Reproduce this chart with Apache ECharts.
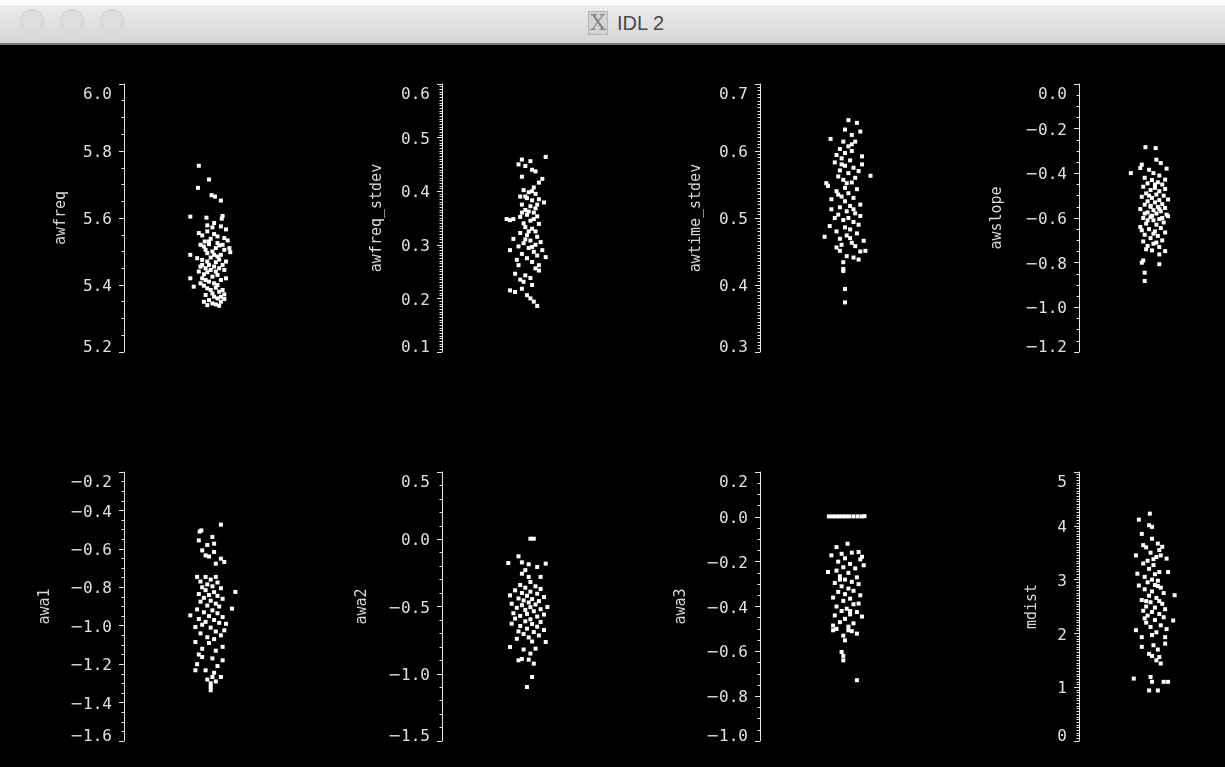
<!DOCTYPE html>
<html><head><meta charset="utf-8">
<script src="https://cdn.jsdelivr.net/npm/echarts@6/dist/echarts.min.js"></script>
<style>
html,body{margin:0;padding:0;background:#fff;}
#wrap{position:relative;width:1225px;height:767px;overflow:hidden;background:#000;}
#chart{position:absolute;left:0;top:0;width:1225px;height:767px;}
#topstrip{position:absolute;left:0;top:0;width:1225px;height:5px;background:#fff;}
#bar{position:absolute;left:0;top:5px;width:1225px;height:38px;background:linear-gradient(#ededed,#d6d6d6);border-bottom:2px solid #7a7a7a;}
.dot{position:absolute;top:4px;width:24px;height:24px;border-radius:50%;background:#dedede;border:1px solid #d0d0d0;box-sizing:border-box;}
#icon{position:absolute;left:588px;top:6px;width:20px;height:24px;background:#d4d4d4;border:1px solid #b5b5b5;box-sizing:border-box;font-family:'DejaVu Serif',serif;font-size:22px;line-height:22px;text-align:center;color:#888;}
#title{position:absolute;left:617px;top:6px;font-family:'Liberation Sans','DejaVu Sans',sans-serif;font-size:20px;line-height:24px;color:#4a4a4a;}
</style></head>
<body>
<div id="wrap">
  <div id="chart"></div>
  <div id="topstrip"></div>
  <div id="bar">
    <div class="dot" style="left:20px"></div>
    <div class="dot" style="left:60px"></div>
    <div class="dot" style="left:100px"></div>
    <div id="icon">X</div>
    <div id="title">IDL 2</div>
  </div>
</div>
<script>
// ---- panel names ----
const panelNames = ['awfreq','awfreq_stdev','awtime_stdev','awslope','awa1','awa2','awa3','mdist'];

// ---- tick labels per panel ----
const awfreqTicks = [5.2,5.4,5.6,5.8,6.0];
const awfreqStdevTicks = [0.1,0.2,0.3,0.4,0.5,0.6];
const awtimeStdevTicks = [0.3,0.4,0.5,0.6,0.7];
const awslopeTicks = [-1.2,-1.0,-0.8,-0.6,-0.4,-0.2,0.0];
const awa1Ticks = [-1.6,-1.4,-1.2,-1.0,-0.8,-0.6,-0.4,-0.2];
const awa2Ticks = [-1.5,-1.0,-0.5,0.0,0.5];
const awa3Ticks = [-1.0,-0.8,-0.6,-0.4,-0.2,0.0,0.2];
const mdistTicks = [0,1,2,3,4,5];

// ---- data: [jitter, value] ----
const awfreqPts = [[-0.12,5.756],[0.0,5.715],[-0.13,5.69],[0.03,5.668],[0.07,5.664],[0.14,5.652],[-0.22,5.604],[-0.03,5.601],[0.16,5.606],[0.15,5.598],
[-0.02,5.578],[0.04,5.572],[0.14,5.575],[0.20,5.566],[0.06,5.585],
[-0.12,5.555],[-0.08,5.548],[-0.02,5.56],[0.06,5.552],[0.10,5.545],[0.18,5.54],[0.22,5.533],[0.02,5.538],[-0.05,5.53],
[-0.10,5.52],[-0.06,5.515],[0.0,5.522],[0.08,5.51],[0.12,5.518],[0.18,5.505],[0.24,5.51],[0.25,5.498],[0.04,5.5],[-0.02,5.495],[0.14,5.49],
[-0.22,5.49],[-0.14,5.48],[-0.08,5.475],[-0.02,5.47],[0.02,5.482],[0.08,5.468],[0.12,5.476],[0.16,5.46],[0.20,5.47],[0.06,5.455],[-0.04,5.45],
[-0.12,5.44],[-0.06,5.432],[-0.02,5.438],[0.04,5.425],[0.10,5.43],[0.14,5.415],[0.0,5.41],[-0.08,5.42],
[-0.22,5.42],[-0.18,5.395],
[-0.06,5.398],[-0.02,5.39],[0.02,5.385],[0.08,5.392],[0.12,5.38],[0.16,5.385],[0.18,5.372],[-0.04,5.37],[0.06,5.365],[0.10,5.36],[0.0,5.355],[-0.06,5.35],[0.04,5.345],[0.14,5.35],[0.18,5.358],[0.08,5.342],[-0.02,5.34],[0.12,5.338],
[0.0,5.53],[0.10,5.525],[0.16,5.52],[-0.04,5.505],[0.06,5.49],[0.10,5.485],[-0.08,5.46],[0.0,5.46],[0.12,5.45],[0.18,5.445],[-0.10,5.455],[0.02,5.445],[0.08,5.44],[-0.04,5.415],[0.06,5.405],[0.2,5.42],[0.1,5.4],[-0.1,5.405],[0.04,5.375],[0.14,5.365]];

const awfreqStdevPts = [[0.22,0.464],[-0.06,0.459],[0.04,0.456],[-0.10,0.45],[-0.02,0.447],[0.06,0.44],[0.10,0.437],[-0.06,0.427],[0.18,0.423],[0.14,0.416],[0.08,0.407],
[-0.04,0.402],[0.02,0.398],[0.10,0.395],[-0.08,0.39],[0.0,0.387],[0.06,0.383],[0.14,0.385],[0.20,0.379],[-0.06,0.375],[0.04,0.372],[0.10,0.368],[-0.02,0.365],[0.08,0.36],[0.0,0.356],[-0.08,0.352],[0.12,0.353],[0.04,0.345],[-0.04,0.34],
[-0.24,0.348],[-0.20,0.346],[-0.16,0.348],[0.14,0.339],
[-0.02,0.333],[0.06,0.33],[0.10,0.325],[-0.08,0.322],[0.0,0.318],[0.12,0.315],[-0.16,0.311],[0.04,0.308],[-0.04,0.303],[0.10,0.3],[0.16,0.305],[-0.10,0.297],[0.02,0.294],[-0.20,0.29],[0.18,0.29],[0.08,0.287],[-0.06,0.283],[0.12,0.28],[0.22,0.277],[0.0,0.275],[-0.12,0.272],[0.06,0.268],
[0.14,0.262],[0.10,0.256],[0.14,0.252],[-0.14,0.246],[-0.02,0.243],[0.04,0.238],[-0.08,0.235],[-0.04,0.231],[0.06,0.225],[-0.20,0.215],[-0.14,0.212],[-0.06,0.218],[0.0,0.206],[0.04,0.2],[0.08,0.194],[0.12,0.186],
[0.06,0.4],[-0.02,0.39],[0.12,0.375],[0.02,0.362],[-0.06,0.36],[0.08,0.348],[0.02,0.325],[-0.02,0.31],[0.06,0.296],[-0.10,0.262]];

const awtimeStdevPts = [[0.04,0.646],[0.14,0.642],[0.18,0.629],[0.0,0.632],[0.08,0.624],[-0.17,0.618],[-0.02,0.614],[0.12,0.614],[0.04,0.607],[-0.06,0.603],[0.08,0.6],[0.0,0.597],
[0.2,0.592],[-0.1,0.594],[-0.04,0.589],[0.06,0.586],[0.2,0.58],[-0.12,0.583],[0.0,0.578],[0.1,0.575],[-0.06,0.571],[0.04,0.567],[0.3,0.563],[0.12,0.56],[-0.08,0.562],[-0.02,0.557],[0.08,0.553],[-0.22,0.552],[-0.2,0.548],[0.0,0.545],[0.14,0.543],[-0.1,0.54],[0.04,0.537],[-0.04,0.532],[0.1,0.53],[-0.16,0.528],[0.0,0.525],[0.18,0.52],[0.06,0.518],[-0.06,0.516],[-0.16,0.513],[0.02,0.51],[0.12,0.507],[0.18,0.503],[-0.08,0.505],[0.04,0.5],[-0.02,0.497],[0.1,0.494],[0.16,0.49],[-0.18,0.488],[0.0,0.486],[0.06,0.483],[-0.1,0.48],[0.14,0.477],[0.02,0.474],[-0.24,0.472],[-0.06,0.469],[0.22,0.466],[0.08,0.463],[-0.04,0.46],[0.12,0.458],[-0.1,0.456],[-0.06,0.451],[0.24,0.451],[0.18,0.45],[0.02,0.443],[0.1,0.441],[0.16,0.438],[-0.02,0.434],[-0.02,0.424],[-0.02,0.421],[0.0,0.394],[0.0,0.374],
[0.08,0.61],[-0.04,0.58],[0.02,0.552],[0.1,0.513],[-0.12,0.5],[0.06,0.47],[0.16,0.57],[-0.08,0.535]];

const awslopePts = [[-0.09,-0.283],[0.05,-0.287],[0.06,-0.339],[0.12,-0.354],[-0.14,-0.361],[-0.16,-0.376],[0.20,-0.379],[-0.29,-0.399],[-0.04,-0.384],[0.02,-0.399],[0.18,-0.428],[0.1,-0.41],[-0.1,-0.42],
[0.0,-0.43],[0.08,-0.44],[-0.06,-0.445],[0.14,-0.45],[-0.12,-0.46],[0.04,-0.465],[0.18,-0.47],[-0.02,-0.475],[0.1,-0.48],[-0.08,-0.49],[0.06,-0.495],[0.16,-0.5],[-0.14,-0.505],[0.0,-0.51],[0.22,-0.517],[0.1,-0.52],[-0.06,-0.525],[0.04,-0.53],[0.14,-0.538],[-0.1,-0.54],[-0.02,-0.545],[0.08,-0.55],[0.18,-0.555],[-0.16,-0.56],[0.02,-0.565],[0.12,-0.57],[-0.06,-0.575],[0.06,-0.58],[0.2,-0.585],[0.22,-0.592],[-0.02,-0.595],[-0.12,-0.6],[0.1,-0.605],[0.02,-0.61],[0.16,-0.62],[-0.08,-0.625],[0.06,-0.63],[-0.16,-0.64],[0.12,-0.645],[-0.04,-0.65],[-0.14,-0.655],[0.04,-0.66],[0.18,-0.665],[-0.1,-0.675],[0.08,-0.68],[-0.02,-0.69],[0.14,-0.7],[-0.12,-0.705],[0.02,-0.715],[-0.06,-0.725],[0.1,-0.73],[-0.08,-0.74],[0.0,-0.745],[0.18,-0.748],[0.1,-0.763],[-0.14,-0.8],[0.1,-0.807],[-0.12,-0.79],[-0.1,-0.845],[-0.1,-0.882],
[0.04,-0.45],[-0.04,-0.5],[0.1,-0.56],[0.0,-0.59],[-0.06,-0.61],[0.02,-0.67],[-0.1,-0.58],[0.14,-0.6],[-0.02,-0.55],[0.06,-0.71]];

const awa1Pts = [[0.14,-0.474],[-0.09,-0.504],[-0.11,-0.51],[-0.12,-0.556],[0.04,-0.538],[0.06,-0.573],[-0.08,-0.608],[-0.04,-0.634],[0.06,-0.616],[0.14,-0.651],[0.18,-0.668],[0.08,-0.677],[-0.02,-0.58],[0.0,-0.64],
[-0.14,-0.746],[-0.04,-0.746],[0.08,-0.746],[0.02,-0.76],[-0.1,-0.77],[0.1,-0.775],[-0.02,-0.785],[0.04,-0.795],[-0.08,-0.8],[0.14,-0.805],[0.31,-0.824],[-0.04,-0.815],[0.06,-0.825],[-0.12,-0.835],[0.0,-0.84],[0.1,-0.845],[-0.06,-0.855],[0.16,-0.86],[0.02,-0.87],[-0.1,-0.875],[0.08,-0.885],[-0.02,-0.895],[0.12,-0.9],[0.27,-0.911],[-0.14,-0.915],[0.04,-0.92],[-0.06,-0.93],[0.1,-0.935],[-0.22,-0.946],[0.0,-0.95],[0.16,-0.955],[-0.12,-0.965],[0.06,-0.97],[-0.04,-0.98],[0.12,-0.985],[0.2,-0.99],[-0.08,-0.995],[-0.16,-1.007],[0.02,-1.01],[0.18,-1.024],[0.08,-1.03],[-0.1,-1.04],[0.14,-1.05],[-0.02,-1.06],[0.06,-1.07],[-0.16,-1.085],[0.0,-1.09],[0.16,-1.11],[-0.08,-1.12],[0.08,-1.13],[-0.12,-1.15],[-0.08,-1.163],[0.04,-1.17],[0.16,-1.18],[-0.14,-1.2],[0.1,-1.21],[-0.16,-1.232],[-0.04,-1.232],[0.06,-1.245],[0.04,-1.267],[0.14,-1.267],[-0.02,-1.28],[0.02,-1.3],[0.02,-1.319],[0.02,-1.336],[0.08,-1.29]];

const awa2Pts = [[0.04,0.004],[0.08,0.004],[-0.1,-0.127],[-0.22,-0.177],[-0.06,-0.172],[0.02,-0.186],[0.22,-0.181],[0.12,-0.206],[-0.06,-0.256],[0.02,-0.28],[0.16,-0.28],[0.04,-0.318],[-0.02,-0.23],
[-0.08,-0.34],[0.1,-0.35],[-0.02,-0.36],[0.16,-0.37],[-0.14,-0.38],[0.04,-0.39],[-0.06,-0.4],[0.12,-0.405],[-0.2,-0.417],[0.0,-0.42],[0.2,-0.43],[-0.1,-0.44],[0.06,-0.445],[-0.04,-0.455],[0.14,-0.46],[-0.18,-0.479],[0.02,-0.47],[0.1,-0.485],[-0.06,-0.49],[0.24,-0.504],[0.04,-0.505],[-0.12,-0.51],[0.16,-0.52],[-0.02,-0.525],[0.08,-0.535],[-0.16,-0.55],[0.0,-0.555],[0.2,-0.56],[-0.08,-0.57],[0.12,-0.575],[-0.14,-0.59],[0.04,-0.595],[-0.02,-0.61],[0.16,-0.615],[-0.18,-0.628],[0.06,-0.63],[-0.08,-0.645],[0.12,-0.65],[0.0,-0.665],[0.2,-0.675],[-0.1,-0.685],[0.08,-0.69],[-0.04,-0.705],[0.14,-0.715],[0.02,-0.73],[-0.12,-0.74],[0.22,-0.764],[0.06,-0.76],[-0.2,-0.801],[0.1,-0.813],[-0.04,-0.82],[0.04,-0.85],[-0.1,-0.9],[-0.06,-0.89],[0.02,-0.895],[0.08,-0.925],[0.06,-1.024],[0.0,-1.099]];

const awa3Pts = [[-0.19,0.002],[-0.15,0.002],[-0.11,0.002],[-0.07,0.002],[-0.03,0.002],[0.01,0.002],[0.05,0.002],[0.1,0.002],[0.15,0.002],[0.2,0.002],[0.23,0.003],
[0.03,-0.12],[-0.1,-0.135],[-0.16,-0.172],[-0.04,-0.165],[0.16,-0.157],[0.2,-0.178],[0.08,-0.16],[0.18,-0.19],[0.0,-0.185],[-0.08,-0.2],[0.22,-0.216],[0.06,-0.21],[-0.02,-0.225],[0.12,-0.23],[-0.2,-0.246],[-0.1,-0.24],[0.04,-0.25],[-0.06,-0.265],[0.14,-0.27],[0.0,-0.28],[0.08,-0.29],[-0.12,-0.295],[0.16,-0.3],[-0.04,-0.31],[0.04,-0.32],[0.1,-0.33],[-0.08,-0.335],[0.0,-0.345],[0.18,-0.35],[-0.14,-0.36],[0.06,-0.365],[-0.02,-0.375],[0.16,-0.387],[0.1,-0.39],[-0.1,-0.4],[0.02,-0.41],[-0.04,-0.42],[0.14,-0.425],[0.06,-0.435],[-0.12,-0.44],[0.2,-0.445],[0.0,-0.455],[-0.06,-0.47],[0.1,-0.475],[-0.14,-0.485],[0.04,-0.49],[-0.1,-0.5],[-0.14,-0.506],[0.04,-0.506],[0.14,-0.521],[0.08,-0.51],[-0.02,-0.53],[0.0,-0.551],[-0.04,-0.603],[-0.02,-0.62],[-0.02,-0.64],[0.14,-0.729],[0.06,-0.42],[-0.06,-0.28]];

const mdistPts = [[-0.03,4.226],[-0.18,4.114],[-0.04,4.01],[0.0,3.98],[-0.14,3.85],[0.0,3.76],[-0.12,3.64],[-0.08,3.6],[0.08,3.67],[0.14,3.61],[0.1,3.55],[-0.22,3.45],[0.06,3.42],[0.2,3.39],[-0.02,3.5],[0.12,3.45],[-0.12,3.3],[-0.06,3.35],[0.02,3.27],[0.1,3.14],[0.22,3.14],[-0.2,3.11],[-0.04,3.2],[0.04,3.1],[-0.1,3.05],[0.0,3.0],[0.08,2.98],[-0.06,2.95],[-0.18,2.89],[0.04,2.9],[0.12,2.85],[-0.1,2.82],[0.0,2.78],[0.16,2.75],[0.31,2.71],[-0.04,2.7],[0.06,2.66],[-0.14,2.62],[0.1,2.6],[-0.02,2.58],[0.14,2.55],[-0.08,2.5],[0.04,2.48],[0.18,2.45],[-0.12,2.42],[0.0,2.4],[0.1,2.36],[-0.06,2.33],[0.16,2.3],[0.29,2.24],[0.04,2.25],[-0.08,2.2],[0.12,2.15],[-0.02,2.12],[0.2,2.08],[-0.22,2.06],[0.06,2.02],[-0.14,1.93],[0.18,1.93],[0.0,1.97],[0.18,1.81],[-0.14,1.75],[0.02,1.78],[0.08,1.7],[-0.04,1.62],[0.1,1.56],[0.0,1.58],[0.12,1.44],[0.06,1.5],[-0.25,1.16],[-0.02,1.19],[0.0,1.1],[0.16,1.1],[0.22,1.1],[-0.04,0.94],[0.08,0.94],[-0.08,2.6],[0.08,2.88],[-0.1,2.28],[0.02,3.38]];

const panelTicks = [awfreqTicks,awfreqStdevTicks,awtimeStdevTicks,awslopeTicks,awa1Ticks,awa2Ticks,awa3Ticks,mdistTicks];
const panelPts = [awfreqPts,awfreqStdevPts,awtimeStdevPts,awslopePts,awa1Pts,awa2Pts,awa3Pts,mdistPts];
const panelDecimals = [1,1,1,1,1,1,1,0];
const panelMinor = [4,20,20,4,4,5,4,20];

// ---- layout (styling only) ----
const colLeft = [124,442,760,1079];
const rowTop = [84,472];
const rowHeight = [268,269];
const gridWidth = 170;
const nameGaps = [55,57,56,74,71,72,71,39];

const fg = '#e4e4e4';
const labColor = '#e0e0e0';
function fmt(v, d){
  if (Math.abs(v) < 1e-9) v = 0;
  return v.toFixed(d);
}
function tok(style, pad){
  return {
    [style]:{color:labColor, fontFamily:'DejaVu Sans Mono', fontSize:16, padding:pad},
    [style+'m']:{color:labColor, fontFamily:'DejaVu Sans', fontSize:16, padding:pad}
  };
}
const richStyles = Object.assign({}, tok('top',[22,0,0,0]), tok('bot',[0,0,8,0]), tok('mid',[4,0,0,0]));

const grids=[], xAxes=[], yAxes=[], series=[];
for (let i=0;i<8;i++){
  const r = Math.floor(i/4), c = i%4;
  const t = panelTicks[i];
  const lo = t[0], hi = t[t.length-1];
  const step = Math.round((t[1]-t[0])*1000)/1000;
  grids.push({left:colLeft[c], top:rowTop[r], width:gridWidth, height:rowHeight[r], containLabel:false});
  xAxes.push({gridIndex:i, type:'value', min:-1, max:1, show:false,
    axisLine:{onZero:false}});
  yAxes.push({
    gridIndex:i, type:'value', min:lo, max:hi, interval:step, position:'left',
    name:panelNames[i], nameLocation:'middle', nameRotate:90, nameGap:nameGaps[i],
    nameTextStyle:{color:'#d8d8d8', fontFamily:'DejaVu Sans Mono', fontSize:15},
    axisLine:{show:true, onZero:false, lineStyle:{color:fg, width:1}},
    axisTick:{show:true, inside:false, length:5, lineStyle:{color:fg, width:1}},
    minorTick:{show:true, splitNumber:panelMinor[i], length:2.5, lineStyle:{color:fg, width:1}},
    splitLine:{show:false}, minorSplitLine:{show:false},
    axisLabel:{color:labColor, fontFamily:'DejaVu Sans Mono', fontSize:16, margin:12,
      formatter:(v)=>{
        const s = fmt(v, panelDecimals[i]);
        const st = Math.abs(v-hi) < 1e-9 ? 'top' : (Math.abs(v-lo) < 1e-9 ? 'bot' : 'mid');
        if (s.charAt(0) === '-') return '{' + st + 'm|\u2212}{' + st + '|' + s.slice(1) + '}';
        return '{' + st + '|' + s + '}';
      },
      rich:richStyles}
  });
  series.push({type:'scatter', xAxisIndex:i, yAxisIndex:i, data:panelPts[i],
    symbol:'rect', symbolSize:4, itemStyle:{color:'#ffffff', opacity:1}, silent:true});
}

const chart = echarts.init(document.getElementById('chart'), null, {renderer:'canvas'});
chart.setOption({
  backgroundColor:'#000000',
  animation:false,
  grid:grids, xAxis:xAxes, yAxis:yAxes, series:series
});
</script>
</body></html>
